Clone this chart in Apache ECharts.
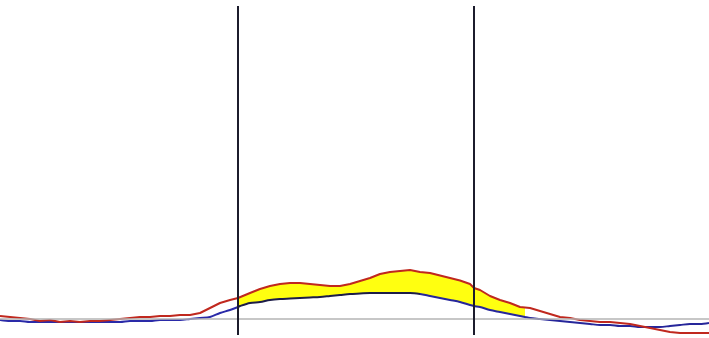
<!DOCTYPE html>
<html>
<head>
<meta charset="utf-8">
<style>
  html, body { margin: 0; padding: 0; background: #ffffff; }
  #chart { width: 709px; height: 338px; }
</style>
<script src="https://cdn.jsdelivr.net/npm/echarts@6/dist/echarts.min.js"></script>
</head>
<body>
<div id="chart"></div>
<script>
// Positions along the horizontal axis (in chart units)
const xs = [0,10,20,30,40,50,60,70,80,90,100,110,120,130,140,150,160,170,180,190,200,210,220,230,238,240,250,260,270,280,290,300,310,320,330,340,350,360,370,380,390,400,410,420,430,440,450,460,470,474,480,490,500,510,520,525,530,540,550,560,570,580,590,600,610,620,630,640,650,660,670,680,690,700,709];
// Red (noisy) series
const redVals = [3,2,1,0,-2,-1,-3,-2,-3,-2,-2,-1,0,1,2,2,3,3,4,4,6,11,16,19,21,22,26,30,33,35,36,36,35,34,33,33,35,38,41,45,47,48,49,47,46,43.5,41,38.5,35,31,29,23,19,16,12,11.5,11,8,5,2,1,-1,-2,-3,-3,-4,-5,-7,-9,-11,-13,-14,-14,-14,-14];
// Blue (smooth) series
const blueVals = [-1,-2,-2,-3,-3,-3,-3,-3,-3,-3,-3,-3,-3,-2,-2,-2,-1,-1,-1,0,1,2,6,9,12,13,16,17,19,20,20.5,21,21.5,22,23,24,25,25.5,26,26,26,26,26,25,23,21,19,17,14,13,12,9,7,5,3,2,1,0,-1,-2,-3,-4,-5,-6,-6,-7,-7,-8,-8,-8,-7,-6,-5,-5,-4];
// Vertical marker positions and the shaded range
const markers = [238, 474];
const fillRange = [238, 525];
const baselineValue = 0;

const redData = xs.map((x, i) => [x, redVals[i]]);
const blueData = xs.map((x, i) => [x, blueVals[i]]);
const topEdge = [], bottomEdge = [];
xs.forEach((x, i) => {
  if (x >= fillRange[0] && x <= fillRange[1]) {
    topEdge.push([x, redVals[i]]);
    bottomEdge.push([x, blueVals[i]]);
  }
});

const chart = echarts.init(document.getElementById('chart'), null, { renderer: 'canvas' });
chart.setOption({
  animation: false,
  backgroundColor: '#ffffff',
  grid: { left: 0, right: 0, top: 6, bottom: 3, containLabel: false },
  xAxis: { type: 'value', min: 0, max: 709, show: false },
  yAxis: { type: 'value', min: -16, max: 313, show: false },
  visualMap: {
    show: false, type: 'piecewise', seriesIndex: 2, dimension: 0,
    pieces: [
      { lt: markers[0], color: '#2a2aa8' },
      { gte: markers[0], lte: 420, color: '#1c1c48' },
      { gt: 420, color: '#26269a' }
    ]
  },
  series: [
    {
      type: 'custom', z: 1, silent: true,
      data: [0],
      renderItem: function (params, api) {
        const pts = topEdge.map(p => api.coord(p))
          .concat(bottomEdge.slice().reverse().map(p => api.coord(p)));
        return { type: 'polygon', shape: { points: pts }, style: { fill: '#ffff10' } };
      }
    },
    {
      type: 'line', data: [], z: 2,
      markLine: {
        silent: true, symbol: 'none', label: { show: false },
        lineStyle: { color: '#b4b4b4', width: 1.5, type: 'solid' },
        data: [{ yAxis: baselineValue }]
      }
    },
    {
      name: 'blue', type: 'line', data: blueData, z: 3,
      showSymbol: false, smooth: 0.3,
      lineStyle: { width: 2 }
    },
    {
      name: 'red', type: 'line', data: redData, z: 4,
      showSymbol: false,
      lineStyle: { color: '#c0281e', width: 2 }
    },
    {
      type: 'line', data: [], z: 6,
      markLine: {
        silent: true, symbol: 'none', label: { show: false },
        lineStyle: { color: '#1c1c2c', width: 2, type: 'solid' },
        data: markers.map(m => ({ xAxis: m }))
      }
    }
  ]
});
</script>
</body>
</html>
